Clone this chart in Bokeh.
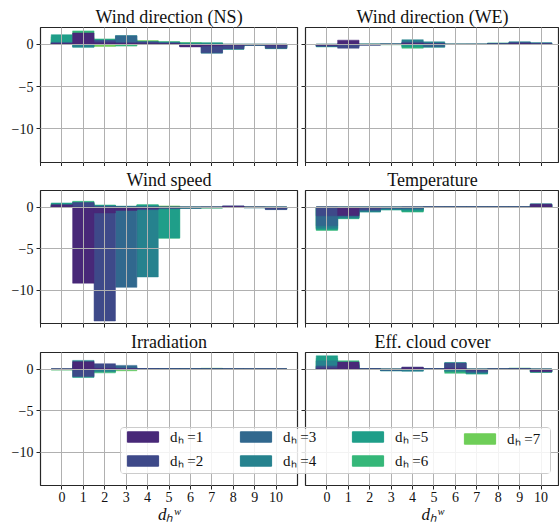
from bokeh.plotting import figure
from bokeh.layouts import column, row
from bokeh.models import FixedTicker, Range1d, Legend, LegendItem
from bokeh.embed import file_html
from bokeh.resources import INLINE

# ---------------- data ----------------
lags = list(range(11))                      # d_h^w
horizons = [1, 2, 3, 4, 5, 6, 7]            # d_h
x_tick_labels = [str(v) for v in lags]
y_ticks = [-10, -5, 0]
y_tick_labels = ["\u221210", "\u22125", "0"]

titles = ["Wind direction (NS)", "Wind direction (WE)", "Wind speed",
          "Temperature", "Irradiation", "Eff. cloud cover"]

wind_dir_ns = [
    [0.1, 1.35, 0.2, 0.15, 0.1, 0.1, -0.3, -0.2, -0.1, -0.05, -0.1],
    [0.15, 0.2, 0.45, 0.2, 0.3, 0.15, -0.25, -1.0, -0.55, -0.1, -0.45],
    [0.25, 0.1, 0.3, 1.0, 0.2, 0.2, -0.2, -0.3, -0.3, -0.05, -0.3],
    [0.2, -0.3, 0.5, 1.05, 0.25, 0.2, -0.1, -1.05, -0.4, -0.1, -0.5],
    [1.15, -0.35, 0.55, 0.6, 0.3, 0.3, 0.15, 0.2, -0.6, -0.1, -0.4],
    [0.9, 1.6, 0.65, -0.2, 0.35, 0.25, 0.2, 0.1, -0.3, -0.05, -0.5],
    [0.6, 0.8, -0.25, -0.15, 0.45, 0.3, 0.2, 0.15, -0.2, -0.1, -0.2],
]
wind_dir_we = [
    [-0.1, 0.5, -0.05, 0.0, 0.1, 0.05, 0.0, 0.0, 0.05, 0.1, 0.05],
    [-0.2, -0.45, -0.1, 0.02, 0.2, 0.1, 0.0, 0.01, 0.05, 0.2, 0.1],
    [-0.25, -0.3, -0.05, 0.05, 0.3, -0.3, 0.01, 0.0, 0.1, 0.25, 0.15],
    [-0.2, -0.2, 0.05, 0.05, 0.55, 0.3, 0.0, 0.02, 0.1, 0.3, 0.2],
    [-0.3, 0.1, -0.05, 0.05, -0.3, -0.35, 0.01, 0.0, 0.15, 0.2, 0.15],
    [-0.15, 0.0, 0.02, -0.05, -0.45, 0.2, 0.0, 0.0, 0.15, 0.1, 0.1],
    [-0.1, 0.0, 0.0, 0.0, -0.2, 0.1, 0.0, 0.0, 0.1, 0.05, 0.05],
]
wind_speed = [
    [0.3, -9.15, -0.7, -0.4, -0.2, -0.1, -0.05, 0.0, 0.1, 0.0, -0.1],
    [0.2, 0.55, -13.7, -0.2, -0.3, -0.1, -0.1, -0.05, 0.15, -0.05, -0.3],
    [0.15, 0.3, 0.1, -9.65, -0.2, -0.15, -0.1, -0.05, 0.1, -0.05, -0.25],
    [0.2, 0.4, 0.15, 0.05, -8.4, -0.2, -0.15, -0.05, 0.1, -0.1, -0.25],
    [0.5, 0.6, 0.2, 0.1, 0.25, -3.7, -0.15, -0.1, 0.05, -0.05, -0.2],
    [0.4, 0.7, 0.25, 0.1, 0.3, -3.75, -0.1, -0.1, 0.0, -0.05, -0.15],
    [0.3, 0.5, 0.2, 0.05, 0.2, 0.15, -0.05, -0.1, 0.0, 0.0, -0.1],
]
temperature = [
    [0.0, -1.05, -0.1, -0.05, 0.0, 0.0, 0.0, 0.0, 0.0, 0.0, 0.35],
    [-1.05, -0.8, -0.35, -0.1, -0.1, 0.0, 0.0, 0.0, 0.0, 0.0, 0.3],
    [-2.25, -1.0, -0.45, -0.2, -0.2, 0.0, 0.0, 0.0, 0.0, 0.0, 0.3],
    [-2.55, -1.3, -0.55, -0.25, -0.3, 0.0, 0.0, 0.0, 0.0, 0.0, 0.4],
    [-2.7, -1.35, -0.6, -0.35, -0.5, -0.02, 0.0, 0.0, 0.0, 0.0, 0.35],
    [-2.8, -1.4, -0.5, -0.3, -0.6, -0.02, 0.0, 0.0, 0.0, 0.0, 0.3],
    [-2.6, -1.2, -0.4, -0.2, -0.45, 0.0, 0.0, 0.0, 0.0, 0.0, 0.2],
]
irradiation = [
    [0.0, 0.9, 0.1, 0.05, 0.0, 0.0, 0.0, 0.0, 0.0, 0.0, 0.0],
    [0.0, -0.9, 0.65, 0.1, 0.02, 0.0, 0.0, 0.0, 0.0, 0.0, 0.0],
    [0.0, 0.5, 0.3, 0.45, 0.05, 0.02, 0.0, 0.0, 0.0, 0.0, 0.0],
    [-0.05, 1.05, -0.3, 0.3, 0.05, 0.05, 0.03, 0.0, 0.0, 0.0, 0.0],
    [-0.05, -1.0, 0.4, 0.2, 0.05, 0.05, 0.05, 0.05, 0.02, 0.0, 0.0],
    [-0.1, 0.6, -0.45, -0.1, 0.03, 0.05, 0.05, 0.08, 0.02, 0.0, 0.0],
    [-0.1, 0.5, -0.3, -0.2, 0.02, 0.03, 0.05, 0.1, 0.0, 0.0, 0.0],
]
cloud_cover = [
    [0.05, 0.85, 0.0, -0.05, 0.2, 0.0, 0.1, -0.1, 0.0, 0.0, -0.3],
    [0.3, 0.5, 0.02, -0.1, 0.25, 0.02, 0.7, -0.3, 0.0, 0.02, -0.25],
    [0.4, 0.4, 0.03, -0.15, -0.1, 0.03, 0.75, -0.4, 0.0, 0.05, -0.3],
    [1.0, 0.6, 0.04, -0.2, -0.25, 0.05, -0.3, -0.5, 0.0, 0.05, -0.35],
    [1.6, 0.8, 0.05, -0.2, -0.2, 0.05, 0.8, -0.55, 0.02, 0.08, -0.35],
    [1.3, 1.0, 0.05, -0.15, -0.1, 0.05, -0.5, -0.6, 0.02, 0.1, -0.4],
    [1.0, 0.7, 0.05, -0.1, -0.05, 0.03, -0.3, -0.4, 0.0, 0.1, -0.3],
]
panels = [wind_dir_ns, wind_dir_we, wind_speed, temperature, irradiation, cloud_cover]

colors = ["#482878", "#3e4989", "#31688e", "#26828e", "#1f9e89", "#35b779", "#6ece58"]

SERIF = "Liberation Serif"
GRID = "#b0b0b0"
DARK = "#262626"

# row geometry: (height, top border, bottom border)
rows_geom = [(166, 27, 4), (162, 22, 5), (199, 23, 42)]


def make_panel(idx):
    r, c = divmod(idx, 2)
    left = c == 0
    bottom_row = r == 2
    h, bt, bb = rows_geom[r]
    p = figure(width=300 if left else 259, height=h,
               x_range=Range1d(-1, 11 if left else 10.86), y_range=Range1d(-14, 2),
               toolbar_location=None, output_backend="svg",
               min_border_left=40 if left else 5, min_border_right=3 if left else 0,
               min_border_top=bt, min_border_bottom=bb,
               background_fill_color="white", border_fill_color="white")
    p.title.text = titles[idx]
    p.title.text_font = SERIF
    p.title.text_font_size = "18px"
    p.title.text_font_style = "normal"
    p.title.text_color = "#111111"
    p.title.align = "center"
    p.title.standoff = 2

    data = panels[idx]
    for k in reversed(range(len(horizons))):
        p.vbar(x=lags, top=data[k], bottom=0, width=1,
               fill_color=colors[k], line_color=colors[k], line_width=0.5)

    if bottom_row:
        p.xaxis.ticker = FixedTicker(ticks=lags)
    else:
        p.xaxis.ticker = FixedTicker(ticks=list(range(-1, 12)))
    p.yaxis.ticker = FixedTicker(ticks=y_ticks)
    for ax in (p.xaxis[0], p.yaxis[0]):
        ax.axis_line_color = None
        ax.major_tick_in = 0
        ax.major_tick_out = 4
        ax.major_tick_line_color = DARK
        ax.minor_tick_line_color = None
        ax.major_label_text_font = SERIF
        ax.major_label_text_font_size = "14px"
        ax.major_label_text_color = "#111111"
    if bottom_row:
        p.xaxis.major_label_overrides = {v: s for v, s in zip(lags, x_tick_labels)}
        p.xaxis.major_label_standoff = 2
        p.xaxis.axis_label = "d\u2095\u02b7"
        p.xaxis.axis_label_text_font = SERIF
        p.xaxis.axis_label_text_font_style = "italic"
        p.xaxis.axis_label_text_font_size = "17px"
        p.xaxis.axis_label_standoff = 0
        p.xaxis.axis_label_text_color = "#111111"
    else:
        p.xaxis.major_label_text_color = None
        p.xaxis.major_label_standoff = 0
    if left:
        p.yaxis.major_label_overrides = {v: s for v, s in zip(y_ticks, y_tick_labels)}
        p.yaxis.major_label_standoff = 3
    else:
        p.yaxis.major_label_text_color = None
        p.yaxis.major_label_standoff = 0

    p.grid.grid_line_color = GRID
    p.grid.grid_line_width = 1
    p.grid.level = "overlay"
    p.outline_line_color = DARK
    p.outline_line_width = 1.2
    return p


figs = [make_panel(i) for i in range(6)]

# ---------------- legend (overlay box) ----------------
leg = figure(width=431, height=47, toolbar_location=None, output_backend="svg",
             x_range=Range1d(0, 1), y_range=Range1d(0, 1),
             x_axis_type=None, y_axis_type=None, min_border=0,
             outline_line_color=None, background_fill_color="white",
             background_fill_alpha=0.85, border_fill_alpha=0,
             styles={"position": "absolute", "left": "120px", "top": "427px",
                     "border": "1px solid #cccccc", "border-radius": "4px"})
# one off-screen bar per series, only to carry the legend swatch
rends = [leg.vbar(x=[10], top=[1], bottom=[0.5], width=1, fill_color=c, line_color=c)
         for c in colors]
col_x = [2, 115, 227, 339]
for j in range(4):
    items = []
    for k in (2 * j, 2 * j + 1):
        if k < len(horizons):
            items.append(LegendItem(label="d\u2095 =%d" % horizons[k], renderers=[rends[k]]))
    y_loc = 5 if len(items) == 2 else 27
    lg = Legend(items=items, location=(col_x[j], y_loc), orientation="vertical",
                border_line_color=None, background_fill_alpha=0, padding=0, margin=0,
                spacing=4, glyph_width=39, glyph_height=13, label_standoff=8,
                label_height=14, label_text_font=SERIF, label_text_font_size="15px",
                label_text_color="#111111")
    leg.add_layout(lg)

layout = column(row(figs[0], figs[1]), row(figs[2], figs[3]), row(figs[4], figs[5]), leg,
                styles={"position": "relative"})

open("out.html", "w").write(file_html(layout, INLINE))
